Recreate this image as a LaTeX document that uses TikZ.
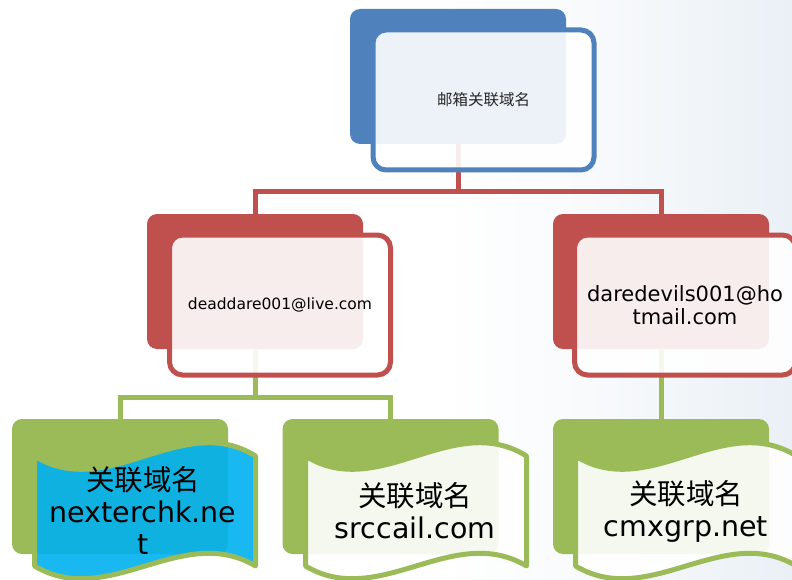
\documentclass[tikz,border=0pt]{standalone}
\usepackage{fontspec}
\setmainfont{DejaVu Sans}
\newfontfamily\cjk{Noto Sans CJK SC}
\definecolor{acblue}{HTML}{4F81BD}
\definecolor{acred}{HTML}{C0504D}
\definecolor{acgreen}{HTML}{9BBB59}
\definecolor{accyan}{HTML}{00B0F0}
\definecolor{bgtone}{HTML}{EAF0F6}
\tikzset{
  backbox/.style={rectangle, rounded corners=10pt, fill=#1, draw=none,
    minimum width=216pt, minimum height=135pt, inner sep=0pt},
  frontbox/.style={rectangle, rounded corners=13pt, draw=#1, line width=5pt,
    fill=white, fill opacity=0.9, text opacity=1,
    minimum width=221pt, minimum height=140pt, inner sep=2pt, align=center},
  wavepath/.style={draw=acgreen, line width=5pt, line join=round, fill=#1, fill opacity=0.9},
  link/.style={draw=#1, line width=5pt},
  bigtxt/.style={align=center, font=\fontsize{28.5}{32}\selectfont, inner sep=0pt},
}
\newcommand\wavepathat[2]{% #1 left x, #2 style fill
  \path[wavepath=#2] (#1,456) .. controls (#1+73.7,502) and (#1+147.3,410) .. (#1+221,456)
    -- (#1+221,566) .. controls (#1+147.3,522) and (#1+73.7,610) .. (#1,566) -- cycle;}
\begin{document}
\begin{tikzpicture}[x=1pt,y=-1pt]
\useasboundingbox (0,0) rectangle (792,580);
\clip (0,0) rectangle (792,580);
% faint background
\shade[left color=white, right color=bgtone, middle color=white!60!bgtone] (440,0) rectangle (792,580);
% back boxes
\node[backbox=acblue] (tb) at (458,76.5) {};
\node[backbox=acred] (lb) at (255,281.5) {};
\node[backbox=acred] (rb) at (661,281.5) {};
\node[backbox=acgreen] (b1) at (120,486.5) {};
\node[backbox=acgreen] (b2) at (390.5,486.5) {};
\node[backbox=acgreen] (b3) at (661,486.5) {};
% connectors
\draw[link=acred] (tb.south) -- ++(0,47) -| (lb.north);
\draw[link=acred] (tb.south) -- ++(0,47) -| (rb.north);
\draw[link=acgreen] (lb.south) -- ++(0,48) -| (b1.north);
\draw[link=acgreen] (lb.south) -- ++(0,48) -| (b2.north);
\draw[link=acgreen] (rb.south) -- (b3.north);
% front boxes
\node[frontbox=acblue, text=black!85, font=\cjk\fontsize{15.5}{18}\selectfont] (tf) at (483.5,100) {邮箱关联域名};
\node[frontbox=acred, font=\fontsize{15.5}{18}\selectfont] (lf) at (280,305) {deaddare001@live.com};
\node[frontbox=acred, font=\fontsize{21}{23}\selectfont] (rf) at (685,305) {daredevils001@ho\\tmail.com};
% wave shapes
\wavepathat{34.5}{accyan}
\wavepathat{305.5}{white}
\wavepathat{575.5}{white}
\node[bigtxt] (t1) at (143,510) {{\cjk 关联域名}\\nexterchk.ne\\t};
\node[bigtxt] (t2) at (415,511) {{\cjk 关联域名}\\srccail.com};
\node[bigtxt] (t3) at (686,511) {{\cjk 关联域名}\\cmxgrp.net};
\end{tikzpicture}
\end{document}
